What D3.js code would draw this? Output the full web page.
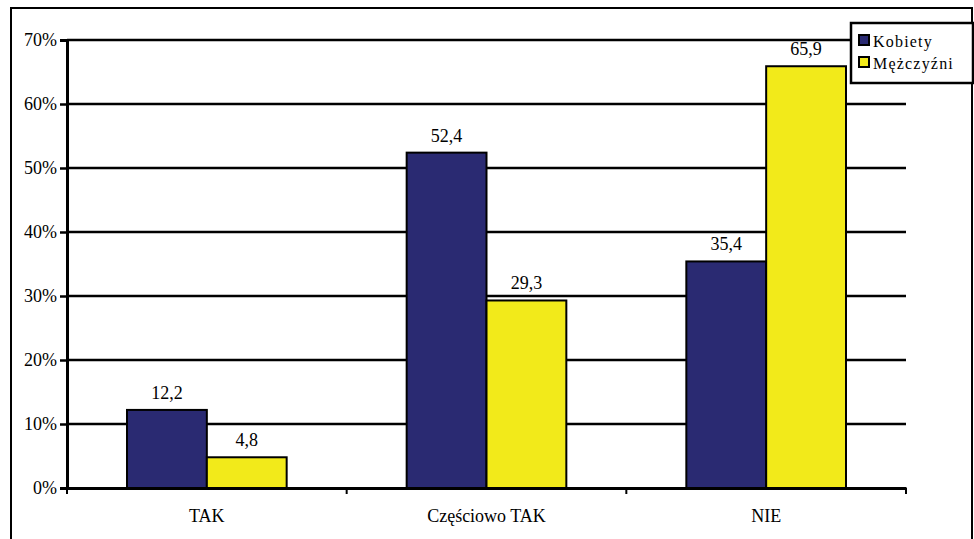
<!DOCTYPE html>
<html><head><meta charset="utf-8">
<script src="https://cdn.jsdelivr.net/npm/d3@7"></script>
</head><body style="margin:0">
<svg id="c" width="974" height="539"></svg>
<script>
const categories = ["TAK", "Częściowo TAK", "NIE"];
const seriesNames = ["Kobiety", "Mężczyźni"];
const kobiety = [12.2, 52.4, 35.4];
const mezczyzni = [4.8, 29.3, 65.9];
const yTicks = [0, 10, 20, 30, 40, 50, 60, 70];
const colors = ["#2a2a72", "#f2ea1a"];

const FONT = "Liberation Serif";
const svg = d3.select("#c");
const L = 67, R = 906, T = 40, B = 488;

svg.append("rect").attr("x", 11).attr("y", 8).attr("width", 961).attr("height", 540)
  .attr("fill", "#fff").attr("stroke", "#000").attr("stroke-width", 2);

const x = d3.scaleBand().domain(categories).range([L, R]);
const x1 = d3.scaleBand().domain(seriesNames).range([60, x.bandwidth() - 60]);
const y = d3.scaleLinear().domain([0, 70]).range([B, T]);

svg.append("g").selectAll("line").data(yTicks.filter(d => d > 0)).join("line")
  .attr("x1", L).attr("x2", R).attr("y1", d => y(d)).attr("y2", d => y(d))
  .attr("stroke", "#000").attr("stroke-width", 2.5);

const ya = svg.append("g").attr("transform", `translate(${L},0)`)
  .call(d3.axisLeft(y).tickValues(yTicks).tickFormat(d => d + "%").tickSize(7).tickPadding(3));
ya.attr("font-family", FONT).attr("font-size", 18);
ya.select(".domain").attr("stroke", "#000").attr("stroke-width", 3);
ya.selectAll(".tick line").attr("stroke", "#000").attr("stroke-width", 2.5);
ya.selectAll("text").attr("fill", "#000").attr("font-family", FONT);

const data = categories.map((c, i) => ({c, vals: [kobiety[i], mezczyzni[i]]}));
const g = svg.append("g").selectAll("g").data(data).join("g")
  .attr("transform", d => `translate(${x(d.c)},0)`);
g.selectAll("rect").data(d => d.vals.map((v, j) => ({v, s: seriesNames[j], j}))).join("rect")
  .attr("x", d => x1(d.s)).attr("width", x1.bandwidth())
  .attr("y", d => y(d.v)).attr("height", d => y(0) - y(d.v))
  .attr("fill", d => colors[d.j]).attr("stroke", "#000").attr("stroke-width", 2);
g.selectAll("text").data(d => d.vals.map((v, j) => ({v, s: seriesNames[j]}))).join("text")
  .attr("x", d => x1(d.s) + x1.bandwidth() / 2).attr("y", d => y(d.v) - 11)
  .attr("text-anchor", "middle").attr("font-family", FONT).attr("font-size", 18)
  .text(d => d.v.toFixed(1).replace(".", ","));

const xa = svg.append("g").attr("transform", `translate(0,${B})`)
  .call(d3.axisBottom(x).tickSize(0).tickPadding(21));
xa.attr("font-family", FONT).attr("font-size", 18);
xa.select(".domain").attr("stroke", "#000").attr("stroke-width", 3);
xa.selectAll("text").attr("fill", "#000").attr("font-family", FONT);
svg.append("g").selectAll("line").data([0, 1, 2, 3]).join("line")
  .attr("x1", i => L + i * x.step()).attr("x2", i => L + i * x.step())
  .attr("y1", B).attr("y2", B + 6).attr("stroke", "#000").attr("stroke-width", 2);

const lg = svg.append("g").attr("font-family", FONT);
lg.append("rect").attr("x", 851).attr("y", 23).attr("width", 122).attr("height", 60)
  .attr("fill", "#fff").attr("stroke", "#000").attr("stroke-width", 2.5);
seriesNames.forEach((s, i) => {
  lg.append("rect").attr("x", 859).attr("y", 35 + i * 22).attr("width", 10).attr("height", 10)
    .attr("fill", colors[i]).attr("stroke", "#000").attr("stroke-width", 2);
  lg.append("text").attr("x", 873).attr("y", 47 + i * 22).attr("font-family", FONT)
    .attr("font-size", 16).attr("letter-spacing", 1.2).text(s);
});
</script></body></html>
